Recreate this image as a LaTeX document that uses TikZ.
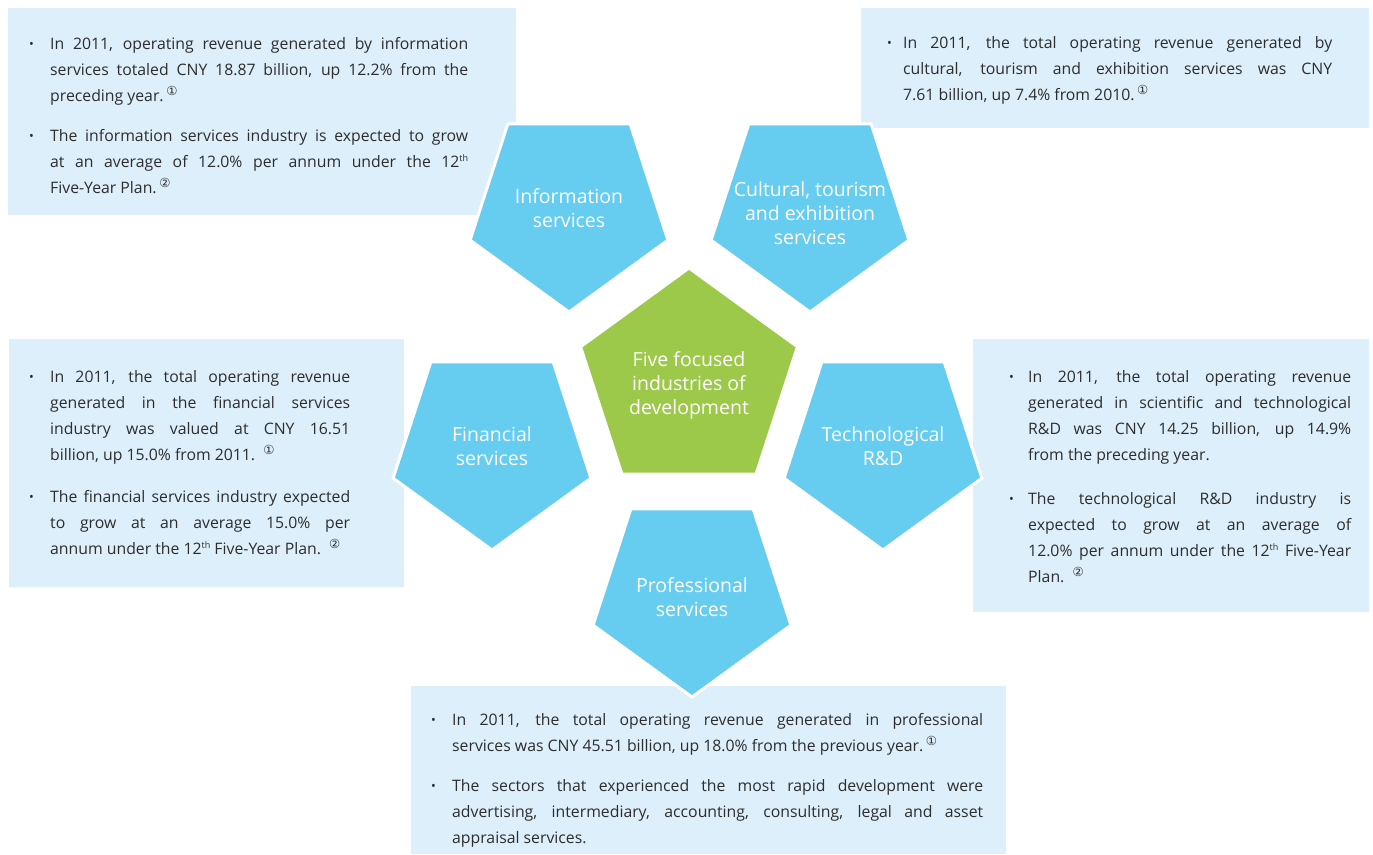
\documentclass[tikz,border=0pt]{standalone}
\usepackage{fontspec}
\setmainfont{Open Sans}
\newfontfamily\circfont{DejaVu Sans}
\usetikzlibrary{shapes.geometric}
\definecolor{pentblue}{RGB}{102,204,240}
\definecolor{pentgreen}{RGB}{157,201,74}
\definecolor{boxblue}{RGB}{220,239,250}
\definecolor{bodygray}{RGB}{45,45,45}
\newlength{\bulletwd}
\setlength{\bulletwd}{22pt}
\newcommand{\circnum}[1]{\,\raisebox{6pt}{\fontsize{12.5}{12.5}\circfont #1}}
\newcommand{\thsup}{\raisebox{6pt}{\fontsize{9}{9}\selectfont th}}
\newcommand{\bulletitem}[1]{\par\noindent\makebox[\bulletwd][l]{\kern1pt\raisebox{1pt}{\scalebox{0.8}{\textbullet}}}%
  \parbox[t]{\dimexpr\linewidth-\bulletwd}{\rightskip=0pt\parfillskip=0pt plus 1fil\tolerance=10000\hyphenpenalty=10000 #1}\par}

\begin{document}
\begin{tikzpicture}[x=1pt,y=-1pt,
  bodytext/.style={inner sep=0pt,anchor=north west,align=justify,text=bodygray,font=\fontsize{15.8}{26}\selectfont},
  bluepent/.style={regular polygon,regular polygon sides=5,shape border rotate=180,minimum size=208pt,inner sep=0pt,fill=pentblue,draw=white,line width=3pt},
  greenpent/.style={regular polygon,regular polygon sides=5,minimum size=228pt,inner sep=0pt,fill=pentgreen,draw=white,line width=3pt},
  pentlabel/.style={text=white,align=center,font=\fontsize{19.5}{24}\selectfont}]
\useasboundingbox (0,0) rectangle (1373,854);
\fill[white] (0,0) rectangle (1373,854);

\fill[boxblue] (8,8) rectangle (516,215);
\fill[boxblue] (861,8) rectangle (1369,128);
\fill[boxblue] (9,339) rectangle (404,587);
\fill[boxblue] (973,339) rectangle (1369,612);
\fill[boxblue] (411,686) rectangle (1006,854);

\node[bodytext,text width=440pt] (infotext) at (28,23) {%
\bulletitem{In 2011, operating revenue generated by information\linebreak services totaled CNY 18.87 billion, up 12.2\% from the\linebreak preceding year.\circnum{①}}
\vspace{23pt}
\bulletitem{The information services industry is expected to grow\linebreak at an average of 12.0\% per annum under the 12\thsup\linebreak Five-Year Plan.\circnum{②}}};

\node[bodytext,text width=446pt] (culturetext) at (886,22) {\setlength{\bulletwd}{17pt}%
\bulletitem{In 2011, the total operating revenue generated by\linebreak cultural, tourism and exhibition services was CNY\linebreak 7.61 billion, up 7.4\% from 2010.\circnum{①}}};

\node[bodytext,text width=322pt] (financetext) at (28,356) {%
\bulletitem{In 2011, the total operating revenue\linebreak generated in the financial services\linebreak industry was valued at CNY 16.51\linebreak billion, up 15.0\% from 2011. \circnum{①}}
\vspace{25pt}
\bulletitem{The financial services industry expected\linebreak to grow at an average 15.0\% per\linebreak annum under the 12\thsup{} Five-Year Plan. \circnum{②}}};

\node[bodytext,text width=343pt] (techtext) at (1008,356) {\setlength{\bulletwd}{20pt}%
\bulletitem{In 2011, the total operating revenue\linebreak generated in scientific and technological\linebreak R\&D was CNY 14.25 billion, up 14.9\%\linebreak from the preceding year.}
\vspace{27pt}
\bulletitem{The technological R\&D industry is\linebreak expected to grow at an average of\linebreak 12.0\% per annum under the 12\thsup{} Five-Year\linebreak Plan. \circnum{②}}};

\node[bodytext,text width=553pt] (protext) at (430,699) {%
\bulletitem{In 2011, the total operating revenue generated in professional\linebreak services was CNY 45.51 billion, up 18.0\% from the previous year.\circnum{①}}
\vspace{23pt}
\bulletitem{The sectors that experienced the most rapid development were\linebreak advertising, intermediary, accounting, consulting, legal and asset\linebreak appraisal services.}};

\node[bluepent,label={[pentlabel]center:Information\\services}] (info) at (569,208) {};
\node[bluepent,label={[pentlabel,yshift=-5pt]center:Cultural, tourism\\and exhibition\\services}] (culture) at (810,208) {};
\node[greenpent,label={[pentlabel,yshift=-3pt]center:Five focused\\industries of\\development}] (core) at (689,382) {};
\node[bluepent,label={[pentlabel]center:Financial\\services}] (finance) at (492,446) {};
\node[bluepent,label={[pentlabel]center:Technological\\R\&D}] (tech) at (883,446) {};
\node[bluepent,label={[pentlabel,yshift=-4pt]center:Professional\\services}] (pro) at (692,593) {};
\end{tikzpicture}
\end{document}
